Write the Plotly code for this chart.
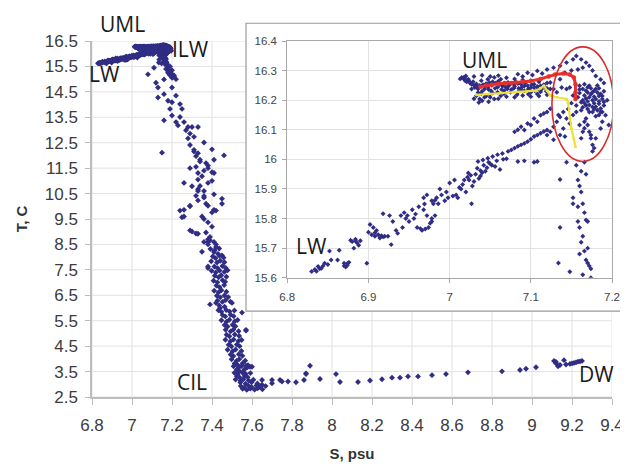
import plotly.graph_objects as go

# ---------------- data (S, psu ; T, C) ----------------
# near-surface layers (T >= 15.6): shown in main chart and in the inset
lw_band = [
    (6.830, 15.621), (6.834, 15.628), (6.838, 15.638), (6.842, 15.632), (6.846, 15.649), (6.850, 15.645),
    (6.854, 15.660), (6.852, 15.690), (6.864, 15.693), (6.862, 15.660), (6.870, 15.649), (6.872, 15.636),
    (6.874, 15.642), (6.876, 15.652), (6.878, 15.727), (6.884, 15.730), (6.888, 15.710), (6.882, 15.700),
    (6.880, 15.722), (6.886, 15.718), (6.898, 15.649), (6.900, 15.754), (6.902, 15.780), (6.906, 15.770),
    (6.908, 15.740), (6.912, 15.745), (6.914, 15.734), (6.918, 15.738), (6.920, 15.740), (6.924, 15.740),
    (6.918, 15.816), (6.926, 15.810), (6.928, 15.712), (6.930, 15.790), (6.934, 15.760), (6.936, 15.750),
    (6.940, 15.810), (6.944, 15.820), (6.942, 15.770), (6.950, 15.790), (6.954, 15.830), (6.958, 15.815),
    (6.962, 15.840), (6.969, 15.849), (6.960, 15.770), (6.966, 15.760), (6.970, 15.765), (6.974, 15.770),
    (6.978, 15.790), (6.982, 15.810), (6.978, 15.800), (6.972, 15.810), (6.968, 15.830), (6.968, 15.870),
    (6.972, 15.880), (6.978, 15.860), (6.980, 15.850), (6.986, 15.850), (6.988, 15.900), (6.994, 15.860),
    (6.998, 15.870), (7.000, 15.920), (7.004, 15.876), (7.006, 15.930), (7.010, 15.870), (7.014, 15.900),
    (7.018, 15.930), (7.020, 15.890), (7.023, 15.954), (7.027, 15.850), (7.028, 15.910), (7.032, 15.950),
    (7.034, 15.970), (7.038, 15.944), (7.042, 15.980), (7.044, 15.960), (7.048, 15.990), (7.052, 15.980),
    (7.058, 15.995), (7.062, 15.966), (7.066, 16.000), (7.070, 16.002), (7.092, 15.995), (7.104, 15.990),
    (7.024, 15.930), (7.030, 15.925), (7.036, 15.935), (7.040, 15.955), (7.046, 15.972), (7.012, 15.905),
    (7.016, 15.915), (6.990, 15.880), (6.996, 15.890), (6.984, 15.870), (6.946, 15.800), (6.948, 15.810),
    (6.956, 15.800), (6.910, 15.760), (6.904, 15.745), (6.890, 15.725),
    (6.836, 15.622), (6.840, 15.630), (6.844, 15.640), (6.870, 15.640), (6.874, 15.648), (6.884, 15.724),
    (6.908, 15.752), (6.916, 15.742), (6.964, 15.766), (6.976, 15.784), (6.982, 15.862), (7.008, 15.880),
    (7.022, 15.940), (7.026, 15.946), (7.038, 15.962), (7.050, 15.985), (7.056, 15.976),
]
ilw_column = [
    (7.136, 15.932), (7.144, 15.990), (7.156, 15.980), (7.158, 15.930), (7.160, 15.910), (7.162, 15.890),
    (7.152, 15.870), (7.152, 15.850), (7.158, 15.840), (7.164, 15.850), (7.166, 15.820), (7.170, 15.790),
    (7.168, 15.795), (7.158, 15.790), (7.136, 15.770), (7.160, 15.770), (7.164, 15.740), (7.162, 15.720),
    (7.166, 15.690), (7.160, 15.680), (7.168, 15.660), (7.170, 15.650), (7.134, 15.650), (7.148, 15.620),
    (7.164, 15.610), (7.174, 15.630), (7.174, 15.600), (7.166, 15.990), (7.168, 15.950), (7.162, 15.960),
    (7.170, 15.700), (7.172, 15.640),
]
uml_band = [
    (7.015, 16.277), (7.019, 16.271), (7.023, 16.271), (7.027, 16.254), (7.031, 16.243), (7.035, 16.238),
    (7.043, 16.238), (7.039, 16.266), (7.047, 16.271), (7.055, 16.277), (7.063, 16.271), (7.072, 16.260),
    (7.080, 16.254), (7.088, 16.254), (7.096, 16.249), (7.104, 16.243), (7.112, 16.249), (7.051, 16.232),
    (7.059, 16.227), (7.067, 16.232), (7.075, 16.227), (7.084, 16.227), (7.092, 16.232), (7.100, 16.227),
    (7.108, 16.221), (7.043, 16.210), (7.055, 16.204), (7.037, 16.204), (7.027, 16.238), (7.019, 16.266),
    (7.017, 16.273), (7.021, 16.262), (7.025, 16.258), (7.029, 16.262), (7.033, 16.255), (7.037, 16.250),
    (7.041, 16.252), (7.045, 16.256), (7.049, 16.260), (7.053, 16.262), (7.057, 16.258), (7.061, 16.252),
    (7.065, 16.248), (7.069, 16.244), (7.073, 16.250), (7.077, 16.256), (7.081, 16.262), (7.085, 16.240),
    (7.089, 16.244), (7.093, 16.258), (7.097, 16.238), (7.101, 16.252), (7.105, 16.232), (7.109, 16.238),
    (7.113, 16.236), (7.117, 16.244), (7.035, 16.226), (7.047, 16.244), (7.059, 16.244), (7.071, 16.238),
    (7.033, 16.215), (7.049, 16.218), (7.063, 16.215), (7.079, 16.240), (7.119, 16.230), (7.124, 16.238),
    (7.013, 16.272), (7.018, 16.278), (7.024, 16.265), (7.030, 16.250), (7.034, 16.244), (7.040, 16.230),
    (7.044, 16.246), (7.048, 16.236), (7.052, 16.250), (7.056, 16.240), (7.060, 16.264), (7.064, 16.236),
    (7.068, 16.256), (7.072, 16.246), (7.076, 16.236), (7.080, 16.246), (7.084, 16.256), (7.088, 16.234),
    (7.092, 16.248), (7.096, 16.230), (7.100, 16.242), (7.104, 16.254), (7.108, 16.246), (7.112, 16.228),
    (7.116, 16.252), (7.120, 16.240), (7.039, 16.222), (7.045, 16.214), (7.053, 16.224), (7.067, 16.222),
    (7.083, 16.218), (7.097, 16.220),
    (7.020, 16.282), (7.030, 16.280), (7.040, 16.284), (7.050, 16.280), (7.060, 16.283), (7.070, 16.276),
    (7.080, 16.272), (7.090, 16.268), (7.100, 16.266), (7.110, 16.262), (7.120, 16.258),
    (7.030, 16.205), (7.040, 16.198), (7.050, 16.210), (7.060, 16.205), (7.070, 16.212), (7.080, 16.210),
    (7.090, 16.216), (7.100, 16.212), (7.110, 16.214), (7.120, 16.218), (7.048, 16.195), (7.036, 16.192),
]
uml_arc = [
    (7.084, 16.288), (7.096, 16.293), (7.108, 16.299), (7.120, 16.304), (7.128, 16.310), (7.136, 16.316),
    (7.144, 16.327), (7.152, 16.338), (7.156, 16.349), (7.162, 16.338), (7.168, 16.327), (7.172, 16.316),
    (7.164, 16.310), (7.158, 16.304), (7.142, 16.293), (7.136, 16.271), (7.138, 16.243), (7.144, 16.238),
    (7.148, 16.243), (7.124, 16.260), (7.128, 16.238), (7.132, 16.227), (7.180, 16.282), (7.090, 16.280),
    (7.102, 16.285), (7.114, 16.290), (7.150, 16.300), (7.176, 16.300), (7.186, 16.270), (7.190, 16.258),
]
right_cluster = [
    (7.160, 16.249), (7.164, 16.238), (7.172, 16.249), (7.180, 16.238), (7.186, 16.221), (7.188, 16.204),
    (7.184, 16.188), (7.176, 16.177), (7.168, 16.182), (7.162, 16.193), (7.172, 16.210), (7.180, 16.204),
    (7.166, 16.216), (7.176, 16.227), (7.190, 16.182), (7.182, 16.166), (7.172, 16.160), (7.162, 16.166),
    (7.156, 16.182), (7.158, 16.210), (7.168, 16.232), (7.192, 16.149), (7.188, 16.127), (7.196, 16.116),
    (7.186, 16.104), (7.170, 16.196), (7.178, 16.190), (7.184, 16.214), (7.174, 16.240), (7.166, 16.254),
    (7.182, 16.250), (7.190, 16.230), (7.160, 16.224), (7.178, 16.170), (7.186, 16.160), (7.164, 16.200),
    (7.152, 16.216), (7.194, 16.200), (7.156, 16.160), (7.150, 16.190),
    (7.168, 16.138), (7.170, 16.116), (7.172, 16.093), (7.174, 16.071), (7.176, 16.049), (7.176, 16.027),
    (7.164, 16.093), (7.162, 16.071), (7.160, 16.116), (7.180, 16.071), (7.178, 16.038), (7.166, 16.127),
    (7.174, 16.082), (7.166, 16.105),
    (7.170, 16.244), (7.178, 16.232), (7.184, 16.240), (7.174, 16.220), (7.182, 16.226), (7.188, 16.214),
    (7.168, 16.206), (7.176, 16.200), (7.184, 16.196), (7.190, 16.194), (7.166, 16.190), (7.172, 16.184),
    (7.180, 16.178), (7.186, 16.172), (7.170, 16.170), (7.176, 16.160), (7.184, 16.150), (7.164, 16.176),
    (7.160, 16.236), (7.178, 16.212), (7.170, 16.226), (7.188, 16.160), (7.180, 16.146),
]
mid_bands = [
    (7.140, 16.160), (7.136, 16.143), (7.132, 16.127), (7.128, 16.110), (7.124, 16.093), (7.120, 16.082),
    (7.144, 16.138), (7.148, 16.121), (7.140, 16.104), (7.136, 16.082), (7.128, 16.066), (7.142, 16.077),
    (7.134, 16.150), (7.146, 16.170), (7.152, 16.150),
    (7.035, 15.993), (7.047, 16.004), (7.059, 16.016), (7.072, 16.027), (7.080, 16.038), (7.088, 16.049),
    (7.096, 16.060), (7.104, 16.077), (7.112, 16.088), (7.120, 16.099), (7.041, 15.998), (7.053, 16.010),
    (7.065, 16.020), (7.076, 16.032), (7.084, 16.044), (7.092, 16.054), (7.100, 16.068), (7.108, 16.082),
    (7.116, 16.094),
    (7.080, 16.093), (7.088, 16.110), (7.096, 16.121), (7.104, 16.138), (7.112, 16.149), (7.120, 16.160),
    (7.124, 16.171), (7.092, 16.099), (7.100, 16.116), (7.108, 16.127), (7.116, 16.155), (7.084, 16.100),
    (7.084, 15.993), (7.108, 15.993),
]
# deeper layers (T < 15.6): main chart only
ilw_descent = [
    (7.17, 15.55), (7.18, 15.45), (7.17, 15.40), (7.18, 15.35), (7.19, 15.30), (7.18, 15.25), (7.20, 15.20),
    (7.19, 15.15), (7.21, 15.10), (7.20, 15.05), (7.22, 15.00), (7.21, 15.15), (7.19, 15.50), (7.20, 15.35),
    (7.08, 15.19), (7.11, 15.45), (7.12, 14.86), (7.13, 14.67), (7.16, 14.99), (7.13, 14.28), (7.16, 14.41),
    (7.20, 14.67), (7.18, 14.15), (7.20, 14.09), (7.22, 14.35), (7.24, 14.02), (7.19, 13.83), (7.20, 13.57),
    (7.16, 13.38), (7.25, 13.83), (7.24, 13.51), (7.22, 13.31), (7.23, 13.18), (7.26, 13.31), (7.27, 12.99),
    (7.28, 13.12), (7.29, 12.86), (7.30, 13.12), (7.33, 13.12), (7.31, 12.73), (7.28, 12.67), (7.29, 12.41),
    (7.15, 12.11), (7.31, 12.22), (7.33, 12.09), (7.36, 12.51), (7.40, 12.24), (7.46, 12.00), (7.34, 11.83),
    (7.37, 11.70), (7.29, 11.50), (7.38, 11.50), (7.33, 11.31), (7.35, 11.18), (7.41, 11.31), (7.38, 10.92),
    (7.26, 10.92), (7.30, 10.79), (7.33, 10.67), (7.41, 10.47), (7.45, 10.30), (7.45, 10.10), (7.36, 10.34),
    (7.24, 9.83), (7.25, 9.57), (7.29, 10.00), (7.38, 10.02), (7.42, 9.83), (7.36, 9.50), (7.40, 9.20),
    (7.29, 9.05), (7.33, 8.92), (7.38, 8.70), (7.38, 8.60), (7.42, 8.50), (7.35, 8.21), (7.38, 7.63),
    (7.39, 6.14), (7.42, 6.20),
    (7.31, 12.15), (7.32, 11.97), (7.34, 11.76), (7.38, 11.60), (7.41, 11.83), (7.32, 11.55), (7.36, 11.40),
    (7.40, 11.34), (7.33, 11.05), (7.40, 11.00), (7.34, 10.80), (7.36, 10.60), (7.33, 10.60), (7.32, 10.41),
    (7.36, 10.40), (7.29, 10.02), (7.33, 10.23), (7.37, 10.10), (7.41, 9.86), (7.40, 9.76), (7.26, 9.86),
    (7.26, 9.60), (7.35, 9.60), (7.38, 9.37), (7.30, 9.01), (7.32, 8.93), (7.37, 8.97), (7.39, 8.79),
    (7.39, 8.66), (7.41, 8.60), (7.36, 8.60), (7.42, 8.40), (7.38, 8.50), (7.41, 8.20), (7.43, 8.13),
    (7.45, 8.07),
]
dense_band = [
    (7.392, 8.32), (7.413, 8.27), (7.436, 8.34),
    (7.404, 8.03), (7.418, 7.96), (7.437, 8.05), (7.458, 7.98),
    (7.396, 7.84), (7.425, 7.79), (7.441, 7.86), (7.462, 7.80),
    (7.412, 7.63), (7.428, 7.57), (7.452, 7.65), (7.468, 7.58),
    (7.398, 7.46), (7.419, 7.40), (7.438, 7.47), (7.462, 7.42), (7.478, 7.48),
    (7.414, 7.27), (7.433, 7.21), (7.446, 7.29), (7.472, 7.23),
    (7.408, 7.07), (7.427, 7.01), (7.453, 7.09), (7.466, 7.03),
    (7.422, 6.88), (7.438, 6.82), (7.461, 6.90),
    (7.411, 6.68), (7.433, 6.62), (7.447, 6.70), (7.472, 6.64),
    (7.424, 6.48), (7.441, 6.42), (7.462, 6.49), (7.481, 6.43),
    (7.427, 6.29), (7.452, 6.24), (7.468, 6.31), (7.492, 6.25),
    (7.436, 6.10), (7.463, 6.05),
    (7.432, 5.91), (7.447, 5.85), (7.471, 5.92), (7.488, 5.86), (7.512, 5.90),
    (7.453, 5.72), (7.466, 5.67), (7.493, 5.73), (7.508, 5.68),
    (7.447, 5.52), (7.472, 5.46), (7.487, 5.54), (7.514, 5.48), (7.528, 5.53),
    (7.463, 5.33), (7.478, 5.27), (7.503, 5.34), (7.517, 5.28),
    (7.468, 5.14), (7.493, 5.08), (7.507, 5.15), (7.533, 5.09),
    (7.473, 4.95), (7.487, 4.89), (7.514, 4.96), (7.536, 4.90),
    (7.467, 4.75), (7.492, 4.69), (7.508, 4.76), (7.532, 4.70), (7.548, 4.74),
    (7.483, 4.55), (7.497, 4.49), (7.524, 4.56), (7.538, 4.50),
    (7.478, 4.36), (7.503, 4.30), (7.518, 4.37), (7.547, 4.31),
    (7.493, 4.17), (7.507, 4.11), (7.534, 4.18), (7.552, 4.12),
    (7.498, 3.98), (7.523, 3.92), (7.537, 3.99), (7.566, 3.93),
    (7.513, 3.82), (7.527, 3.77), (7.553, 3.83),
    (7.508, 3.71), (7.534, 3.66), (7.548, 3.72), (7.577, 3.67),
    (7.523, 3.57), (7.537, 3.52), (7.562, 3.58),
    (7.512, 3.45), (7.529, 3.40), (7.552, 3.46), (7.568, 3.41), (7.592, 3.44),
    (7.524, 3.32), (7.538, 3.27), (7.563, 3.33), (7.578, 3.28),
    (7.518, 3.19), (7.543, 3.14), (7.557, 3.20), (7.583, 3.15), (7.607, 3.18),
    (7.542, 3.07), (7.568, 3.02), (7.598, 3.08), (7.627, 3.03),
    (7.544, 2.93), (7.562, 2.88), (7.583, 2.94), (7.598, 2.89), (7.622, 2.95), (7.638, 2.90), (7.668, 2.93),
    (7.553, 2.82), (7.574, 2.78), (7.592, 2.83), (7.613, 2.79), (7.628, 2.84), (7.652, 2.80),
    (7.38, 7.57), (7.44, 6.00), (7.50, 6.20), (7.55, 5.82), (7.57, 5.11), (7.58, 3.75), (7.60, 3.69),
    (7.57, 5.14), (7.57, 3.73), (7.59, 3.69),
]
cil_tail = [
    (7.65, 3.17), (7.70, 3.17), (7.74, 3.17), (7.65, 2.98), (7.70, 3.04), (7.75, 3.11), (7.78, 3.11),
    (7.82, 3.08), (7.86, 3.17), (7.87, 3.43), (7.89, 3.73), (7.94, 3.21), (7.87, 3.40), (8.02, 3.40),
    (8.04, 3.09), (8.13, 3.09), (8.19, 3.15), (8.25, 3.20), (8.30, 3.26), (8.34, 3.26), (8.38, 3.31),
    (8.43, 3.31), (8.50, 3.36), (8.57, 3.40), (8.68, 3.47), (8.85, 3.51), (8.94, 3.56), (8.97, 3.61),
    (9.02, 3.67),
]
dw_cluster = [
    (9.11, 3.92), (9.12, 3.82), (9.13, 3.71), (9.16, 3.95), (9.17, 3.78), (9.20, 3.82), (9.22, 3.86),
    (9.25, 3.92), (9.12, 3.88), (9.14, 3.76), (9.19, 3.80), (9.23, 3.89), (9.24, 3.90), (9.21, 3.84),
]
# highlighted profiles in the inset
red_S = [7.038, 7.045, 7.052, 7.060, 7.068, 7.076, 7.082, 7.090, 7.100, 7.112, 7.122, 7.130, 7.140,
         7.148, 7.153, 7.155, 7.155, 7.155]
red_T = [16.245, 16.250, 16.252, 16.255, 16.258, 16.258, 16.260, 16.262, 16.265, 16.272, 16.280,
         16.287, 16.290, 16.287, 16.277, 16.254, 16.227, 16.204]
yellow_S = [7.033, 7.048, 7.063, 7.080, 7.095, 7.106, 7.112, 7.116, 7.120, 7.124, 7.132, 7.144,
            7.146, 7.148, 7.150, 7.153, 7.155]
yellow_T = [16.218, 16.221, 16.225, 16.227, 16.229, 16.232, 16.240, 16.249, 16.232, 16.216, 16.210,
            16.204, 16.190, 16.138, 16.104, 16.070, 16.043]
# outlined region in the inset (S range, T range)
ellipse_S = [7.126, 7.202]
ellipse_T = [15.993, 16.380]

# axis ticks
main_x_ticks = [round(6.8 + 0.2 * i, 1) for i in range(14)]
main_y_ticks = [2.5 + i for i in range(15)]

# labels: (text, S, T, yshift)
main_labels = [("UML", 6.95, 16.5, 17), ("LW", 6.86, 15.2, 0), ("ILW", 7.29, 16.2, 0),
               ("CIL", 7.30, 3.1, 0), ("DW", 9.32, 3.4, 0)]
inset_labels = [("UML", 7.043, 16.335), ("LW", 6.83, 15.707)]

# ---------------- figure ----------------
upper = lw_band + ilw_column + uml_band + uml_arc + right_cluster + mid_bands
deep = ilw_descent + dense_band + cil_tail + dw_cluster
all_pts = upper + deep

NAVY = "#302D84"
GRID = "#E2E2E2"
AXL = "#BDBDBD"
TICKF = dict(family="Liberation Sans, Arial", size=17, color="#3C3C3C")

fig = go.Figure()
fig.add_trace(go.Scatter(x=[p[0] for p in all_pts], y=[p[1] for p in all_pts], mode="markers",
                         marker=dict(symbol="diamond", size=4.5, color=NAVY), xaxis="x", yaxis="y",
                         showlegend=False, hoverinfo="skip"))
fig.add_trace(go.Scatter(x=[p[0] for p in upper], y=[p[1] for p in upper], mode="markers",
                         marker=dict(symbol="diamond", size=3.8, color=NAVY), xaxis="x2", yaxis="y2",
                         showlegend=False, hoverinfo="skip"))
fig.add_trace(go.Scatter(x=red_S, y=red_T, mode="lines+markers",
                         line=dict(color="#E8302A", width=3), marker=dict(color="#E8302A", size=4.5),
                         xaxis="x2", yaxis="y2", showlegend=False, hoverinfo="skip"))
fig.add_trace(go.Scatter(x=yellow_S, y=yellow_T, mode="lines+markers",
                         line=dict(color="#EDE23C", width=2.2), marker=dict(color="#EDE23C", size=3),
                         xaxis="x2", yaxis="y2", showlegend=False, hoverinfo="skip"))

shapes = []
for v in main_x_ticks:
    shapes.append(dict(type="line", xref="x", yref="paper", x0=v, x1=v, y0=0, y1=1,
                       line=dict(color=GRID, width=1), layer="below"))
for v in main_y_ticks:
    shapes.append(dict(type="line", xref="paper", yref="y", x0=0, x1=1, y0=v, y1=v,
                       line=dict(color=GRID, width=1), layer="below"))
# inset panel background
shapes.append(dict(type="rect", xref="paper", yref="paper", x0=0.2962, x1=1.0255, y0=0.241, y1=1.0499,
                   fillcolor="white", line=dict(color="#9A9A9A", width=1.2), layer="below"))
shapes.append(dict(type="circle", xref="x2", yref="y2", x0=ellipse_S[0], x1=ellipse_S[1],
                   y0=ellipse_T[0], y1=ellipse_T[1], line=dict(color="#D92B2B", width=1.6), layer="above"))

annotations = []
LABF = dict(family="Open Sans", size=21, color="#1A1A1A")
for txt, s, t, ys in main_labels:
    annotations.append(dict(text=txt, x=s, y=t, xref="x", yref="y", showarrow=False, yshift=ys, font=LABF))
for txt, s, t in inset_labels:
    annotations.append(dict(text=txt, x=s, y=t, xref="x2", yref="y2", showarrow=False, font=LABF))

fig.update_layout(
    width=628, height=464, margin=dict(l=83, r=15, t=33, b=70),
    paper_bgcolor="white", plot_bgcolor="white",
    shapes=shapes, annotations=annotations,
    xaxis=dict(range=[6.8, 9.4], tick0=6.8, dtick=0.2, showgrid=False, zeroline=False,
               showline=True, linecolor=AXL, linewidth=1.5, ticks="outside", ticklen=6, tickcolor=AXL,
               tickfont=TICKF, ticklabelstandoff=6,
               title=dict(text="S, psu", font=dict(family="Liberation Sans, Arial", size=15, color="#333",
                                                   weight="bold"), standoff=14)),
    yaxis=dict(range=[2.5, 16.5], tick0=2.5, dtick=1, showgrid=False, zeroline=False,
               showline=True, linecolor=AXL, linewidth=1.5, ticks="outside", ticklen=5, tickcolor=AXL,
               tickfont=TICKF, ticklabelstandoff=4,
               title=dict(text="T, C", font=dict(family="Liberation Sans, Arial", size=15, color="#333",
                                                 weight="bold"), standoff=14)),
    xaxis2=dict(domain=[0.3755, 1.0], anchor="y2", range=[6.8, 7.2], tick0=6.8, dtick=0.1,
                showgrid=True, gridcolor=GRID, zeroline=False, showline=True, mirror=True,
                linecolor="#A8A8A8", ticks="outside", ticklen=4, tickcolor="#A8A8A8",
                tickfont=dict(family="Liberation Sans, Arial", size=11.5, color="#444"), ticklabelstandoff=4),
    yaxis2=dict(domain=[0.335, 1.0], anchor="x2", range=[15.6, 16.4], tick0=15.6, dtick=0.1,
                showgrid=True, gridcolor=GRID, zeroline=False, showline=True, mirror=True,
                linecolor="#A8A8A8", ticks="outside", ticklen=4, tickcolor="#A8A8A8",
                tickfont=dict(family="Liberation Sans, Arial", size=11.5, color="#444"), ticklabelstandoff=3),
)

fig.write_html("out.html")
